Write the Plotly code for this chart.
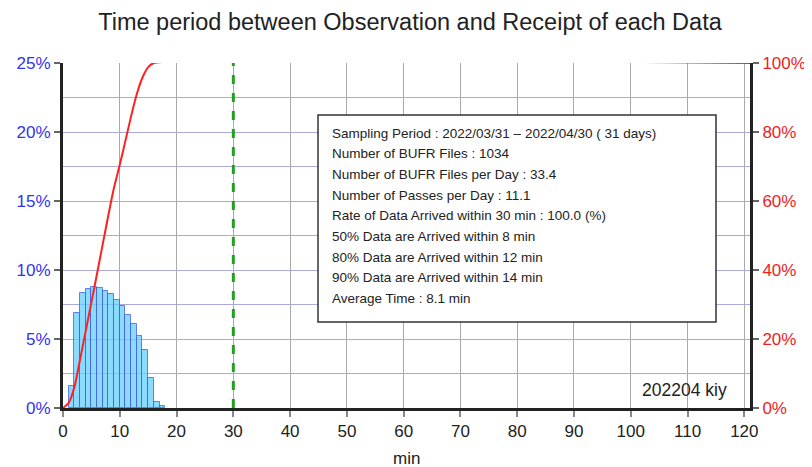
import plotly.graph_objects as go

# ---- data ----
bin_start_min = [1, 2, 3, 4, 5, 6, 7, 8, 9, 10, 11, 12, 13, 14, 15, 16, 17]
bin_pct = [1.6, 6.9, 8.3, 8.6, 8.75, 8.7, 8.5, 8.25, 7.85, 7.4, 6.75, 6.1, 5.2, 4.2, 2.15, 0.45, 0.15]

cdf_min = [0, 1, 2, 3, 4, 5, 6, 7, 8, 9, 10, 11, 12, 13, 14, 15, 16, 121]
cdf_pct = [0, 1.5, 6.0, 14.0, 22.3, 30.6, 39.0, 47.5, 56.0, 64.0, 70.5, 77.5, 84.6, 91.0, 95.8, 98.8, 100, 100]

threshold_min = 30

left_ticks = [0, 5, 10, 15, 20, 25]
right_ticks = [0, 20, 40, 60, 80, 100]
x_ticks = list(range(0, 121, 10))

title_text = "Time period between Observation and Receipt of each Data"
info_lines = [
    "Sampling Period : 2022/03/31 \u2013 2022/04/30 ( 31 days)",
    "Number of BUFR Files : 1034",
    "Number of BUFR Files per Day : 33.4",
    "Number of Passes per Day : 11.1",
    "Rate of Data Arrived within 30 min : 100.0 (%)",
    "50% Data are Arrived within 8 min",
    "80% Data are Arrived within 12 min",
    "90% Data are Arrived within 14 min",
    "Average Time : 8.1 min",
]
tag_text = "202204 kiy"

FONT = "Liberation Sans, Arial, sans-serif"

# the page body has an 8px margin; work in page pixels and subtract it
OFF = 8
W, H = 812 - OFF, 467 - OFF
L, T = 63 - OFF, 63 - OFF
R, B = 812 - 750, 467 - 408
pw, ph = W - L - R, H - T - B


def px_x(px):
    return (px - OFF - L) / pw


def px_y(py):
    return (T + ph - (py - OFF)) / ph


fig = go.Figure()
fig.add_trace(go.Bar(
    x=[s + 0.5 for s in bin_start_min], y=bin_pct, width=1,
    marker=dict(color="rgba(100,205,255,0.75)",
                line=dict(color="rgba(60,90,230,0.75)", width=1)),
    yaxis="y", showlegend=False,
))
fig.add_trace(go.Scatter(
    x=cdf_min, y=cdf_pct, mode="lines",
    line=dict(color="#ff2020", width=2, shape="spline", smoothing=0.5),
    yaxis="y2", showlegend=False,
))

fig.add_shape(type="line", xref="x", yref="paper", x0=threshold_min, x1=threshold_min,
              y0=0, y1=1, line=dict(color="#22a022", width=3, dash="dash"))

fig.add_shape(type="rect", xref="paper", yref="paper",
              x0=px_x(318), x1=px_x(716), y0=px_y(322), y1=px_y(115),
              fillcolor="white", line=dict(color="#333", width=1.5), layer="above")

line_y0 = 133
line_step = 20.7
annotations = []
for i, t in enumerate(info_lines):
    annotations.append(dict(
        text=t, xref="paper", yref="paper",
        x=px_x(330), y=px_y(line_y0 + i * line_step),
        xanchor="left", yanchor="middle", showarrow=False,
        font=dict(family=FONT, size=13.5, color="#222")))
annotations.append(dict(
    text=tag_text, xref="paper", yref="paper",
    x=px_x(729), y=px_y(390),
    xanchor="right", yanchor="middle", showarrow=False,
    font=dict(family=FONT, size=17.5, color="#222")))
annotations.append(dict(
    text="min", xref="paper", yref="paper",
    x=px_x(406), y=px_y(458),
    xanchor="center", yanchor="middle", showarrow=False,
    font=dict(family=FONT, size=17, color="#222")))

fig.update_layout(
    width=W, height=H,
    margin=dict(l=L, r=R, t=T, b=B, autoexpand=False),
    paper_bgcolor="white", plot_bgcolor="white",
    title=dict(text=title_text, x=0.5, xanchor="center", y=1 - (22 - OFF) / H, yanchor="middle",
               font=dict(family=FONT, size=23.5, color="#222")),
    font=dict(family=FONT, size=17, color="#222"),
    bargap=0,
    annotations=annotations,
    xaxis=dict(
        range=[0, 121], tickvals=x_ticks, ticktext=[str(v) for v in x_ticks],
        showgrid=True, gridcolor="#aaaaaa", gridwidth=1,
        showline=True, linecolor="#222", linewidth=3,
        ticks="outside", ticklen=6, tickcolor="#888", tickwidth=1.5,
        tickfont=dict(size=17, color="#222"),
        zeroline=False, automargin=False,
    ),
    yaxis=dict(
        range=[0, 25], tickvals=left_ticks, ticktext=[f"{v}%" for v in left_ticks],
        showgrid=True, gridcolor="#aaaadd", gridwidth=1,
        minor=dict(dtick=2.5, showgrid=True, gridcolor="#aaaadd", gridwidth=1, ticks=""),
        showline=True, linecolor="#222", linewidth=3,
        ticks="outside", ticklen=6, tickcolor="#666", tickwidth=1.5,
        tickfont=dict(size=17, color="#3333ee"),
        zeroline=False, automargin=False,
    ),
    yaxis2=dict(
        range=[0, 100], tickvals=right_ticks, ticktext=[f"{v}%" for v in right_ticks],
        overlaying="y", side="right", showgrid=False,
        showline=True, linecolor="#222", linewidth=3,
        ticks="outside", ticklen=6, tickcolor="#666", tickwidth=1.5,
        tickfont=dict(size=17, color="#ee2222"),
        zeroline=False, automargin=False,
    ),
)

fig.write_html("out.html")
